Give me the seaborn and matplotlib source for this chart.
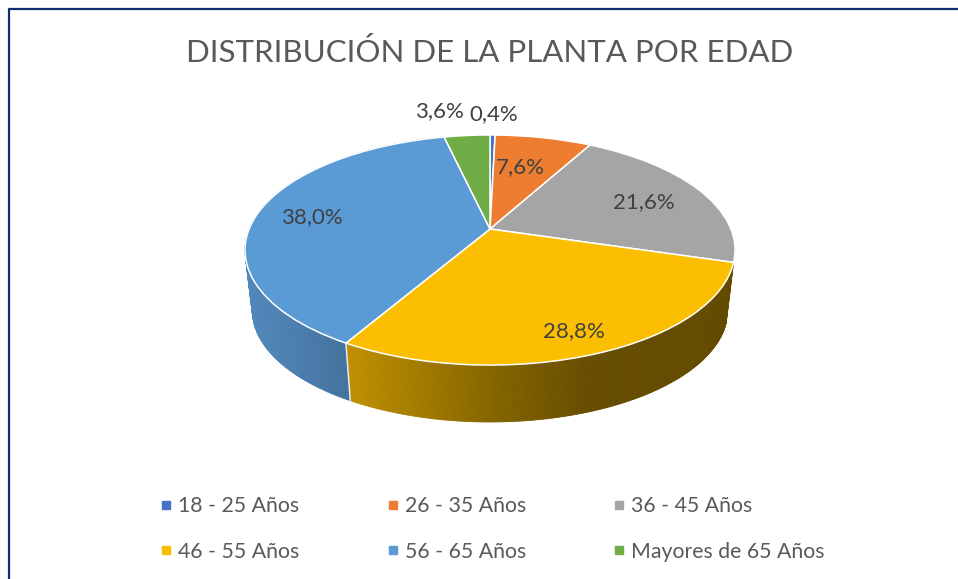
import numpy as np
import matplotlib
matplotlib.use("Agg")
import matplotlib.pyplot as plt
from matplotlib.collections import PolyCollection
from matplotlib.colors import to_rgb
from matplotlib.lines import Line2D
from matplotlib.transforms import Transform
import seaborn as sns

categories = ["18 - 25 Años", "26 - 35 Años", "36 - 45 Años",
              "46 - 55 Años", "56 - 65 Años", "Mayores de 65 Años"]
values = [0.4, 7.6, 21.6, 28.8, 38.0, 3.6]
colors = ["#4472C4", "#ED7D31", "#A5A5A5", "#FCBE00", "#5B9BD5", "#70AD47"]
title = "DISTRIBUCIÓN DE LA PLANTA POR EDAD"

# pixel centre of each value label
label_pos = [(494, 114), (520, 167), (644, 202), (574, 331), (312, 217), (439, 111)]

APEX = np.array([490.0, 229.0])
K = 0.1827   # perspective strength, far edge of the disc looks smaller
A = 240.9
B = 111.2
DEPTH = 61.0
BOTTOM_SCALE = 0.97


def project(u, v):
    # unit disc -> pixels on the top face
    w = 1 + K * v
    return APEX[0] + A * u / w, APEX[1] - B * v / w


class DiscPerspective(Transform):
    input_dims = 2
    output_dims = 2
    is_separable = False

    def transform_non_affine(self, values):
        values = np.asarray(values)
        x, y = project(values[:, 0], values[:, 1])
        return np.column_stack([x, y])


def side_strips(theta1, theta2, stops, n=160):
    # thin quads between top rim and bottom rim, coloured by x
    t = np.radians(np.linspace(theta1, theta2, n))
    x, y = project(np.cos(t), np.sin(t))
    bx = APEX[0] + BOTTOM_SCALE * (x - APEX[0])
    by = APEX[1] + BOTTOM_SCALE * (y - APEX[1]) + DEPTH
    polys, cols = [], []
    xs = [s[0] for s in stops]
    rgb = np.array([to_rgb(s[1]) for s in stops])
    for i in range(n - 1):
        polys.append([(x[i], y[i]), (x[i + 1], y[i + 1]), (bx[i + 1], by[i + 1]), (bx[i], by[i])])
        xm = (x[i] + x[i + 1]) / 2
        cols.append([np.interp(xm, xs, rgb[:, c]) for c in range(3)])
    return PolyCollection(polys, facecolors=cols, edgecolors=cols, linewidths=0.6, zorder=1)


sns.set_theme(style="white")
plt.rcParams["font.family"] = ["Lato", "DejaVu Sans"]
palette = sns.color_palette(colors)

fig, ax = plt.subplots(figsize=(9.58, 5.79), dpi=100)
ax.set_position([0, 0, 1, 1])

wedges, _ = ax.pie(values, colors=palette, startangle=90, counterclock=False,
                   wedgeprops={"edgecolor": "white", "linewidth": 1.1})
ax.set_aspect("auto")
ax.set_xlim(0, 958)
ax.set_ylim(579, 0)
ax.set_frame_on(False)

persp = DiscPerspective() + ax.transData
for wedge in wedges:
    wedge.set_transform(persp)
    wedge.set_zorder(3)

# side wall, only the two front slices show
yellow = wedges[3]
blue = wedges[4]
ax.add_collection(side_strips(yellow.theta1, yellow.theta2,
                              [(348, "#BF9000"), (480, "#8A6800"), (590, "#664D00"), (740, "#624A00")]))
ax.add_collection(side_strips(blue.theta1, blue.theta2,
                              [(245, "#5288BC"), (345, "#44739F")]))

# white seam between the two walls
t = np.radians(yellow.theta1)
sx, sy = project(np.cos(t), np.sin(t))
ax.plot([sx, APEX[0] + BOTTOM_SCALE * (sx - APEX[0])],
        [sy, APEX[1] + BOTTOM_SCALE * (sy - APEX[1]) + DEPTH],
        color="#E8EEF4", lw=1.1, zorder=2)

for val, (px, py) in zip(values, label_pos):
    ax.text(px, py, f"{val:.1f}%".replace(".", ","), ha="center", va="center",
            fontsize=16, color="#404040", zorder=5)

ax.text(490, 53, title, ha="center", va="center", fontsize=22.5, color="#595959")

# frame only shows on the top and left
ax.plot([958, 9, 9], [9, 9, 579], color="#0F2F6F", lw=1.6, zorder=6, clip_on=False)

handles = [Line2D([], [], ls="", marker="s", ms=5.5, color=c) for c in palette]
order = [0, 3, 1, 4, 2, 5]
ax.legend([handles[i] for i in order], [categories[i] for i in order], ncol=3,
          loc="upper left", bbox_to_anchor=(157, 496), bbox_transform=ax.transData,
          frameon=False, fontsize=15.3, labelcolor="#595959", handlelength=0.88,
          handletextpad=0.12, columnspacing=3.95, labelspacing=1.2, borderpad=0, borderaxespad=0)

fig.savefig("out.png", dpi=100)
